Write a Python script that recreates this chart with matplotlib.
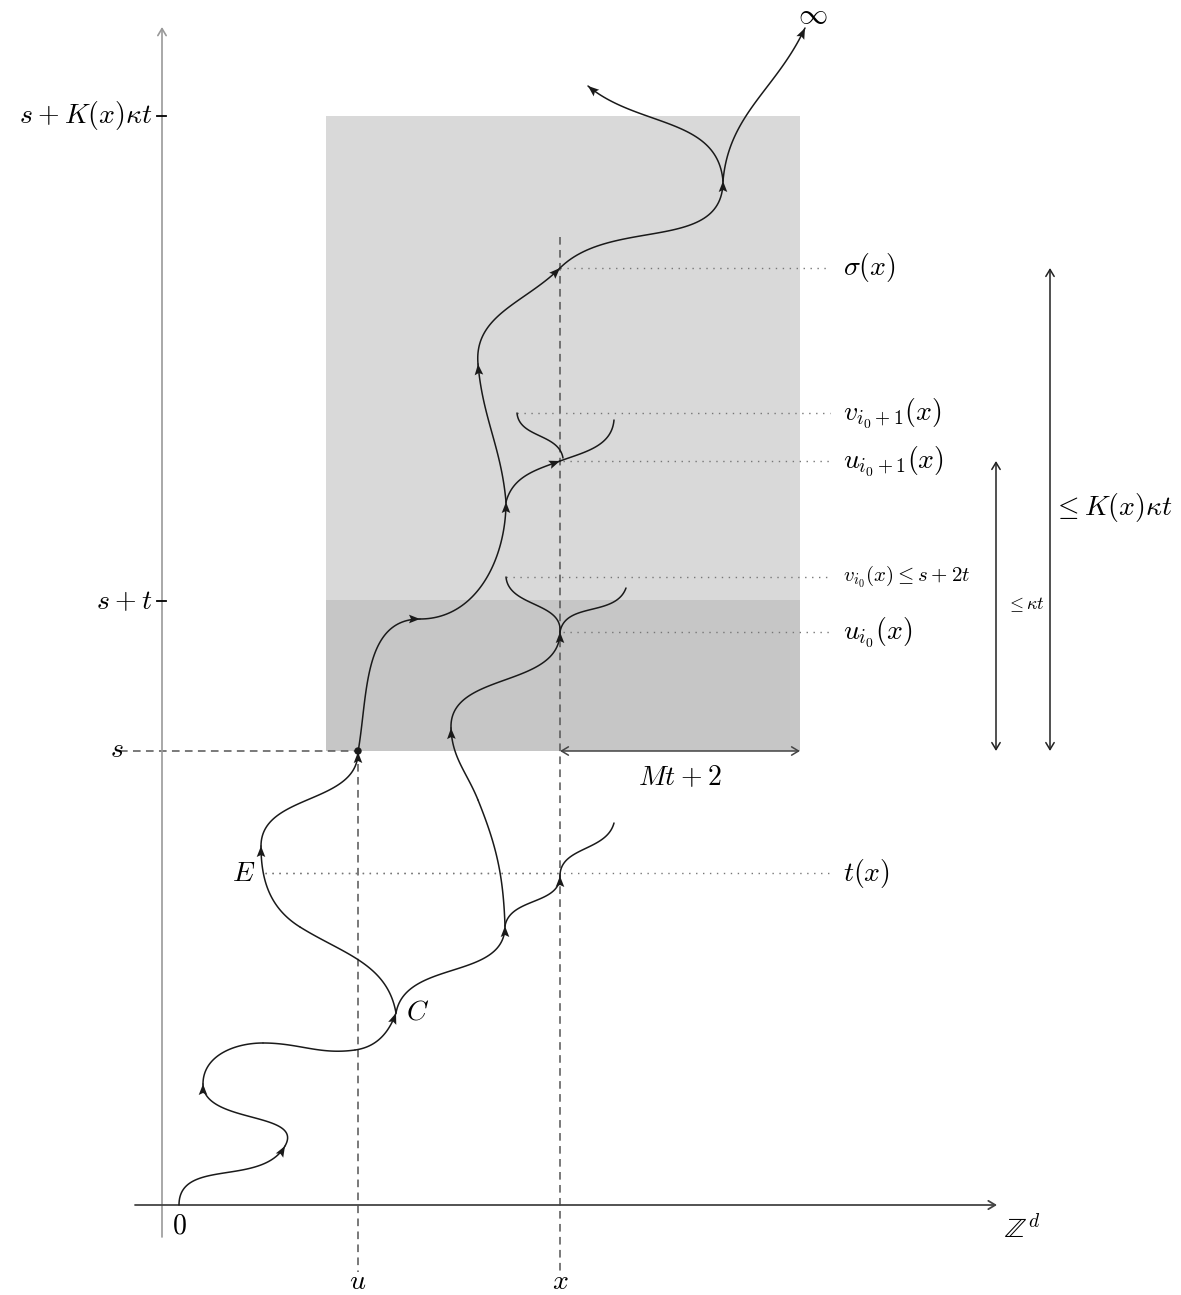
import numpy as np
import matplotlib
matplotlib.use("Agg")
import matplotlib.pyplot as plt
from matplotlib.patches import Polygon, Rectangle, Circle

plt.rcParams['mathtext.fontset'] = 'cm'

W, H = 1181, 1295
fs = 20

# ---- path nodes: (x, y, heading in degrees), pixel coords, y downwards ----
root = [(179, 1205, 90), (285, 1146, 60), (203, 1084, 90), (263, 1043, 0),
        (355, 1050, 8), (396, 1013, 70)]
root_tips = [1, 2, 5]

to_E = [(396, 1013, 100), (300, 927, 148), (261, 846, 90), (358, 752, 90)]
to_E_tips = [2, 3]

c_right = [(396, 1013, 80), (505, 926, 90)]
c_right_tips = [1]

br_tx = [(505, 926, 80), (560, 876, 90), (614, 823, 75)]
br_tx_tips = [1]

br_up = [(505, 926, 92), (478, 800, 112), (451, 728, 92), (560, 632, 90)]
br_up_tips = [2, 3]

cusp0_left = [(560, 632, 85), (506, 577, 95)]
cusp0_right = [(560, 632, 80), (626, 588, 70)]

trunk = [(358, 752, 80), (420, 619, 0), (506, 502, 90)]
trunk_tips = [1, 2]

br_u1 = [(506, 502, 75), (560, 461, 20)]
br_u1_tips = [1]
cusp1_right = [(560, 461, 20), (614, 420, 85)]
cusp1_left = [(563, 458, 100), (517, 413, 95)]

top = [(506, 502, 95), (478, 364, 95), (560, 268, 45), (723, 181, 90)]
top_tips = [1, 2, 3]

to_inf = [(723, 181, 85), (805, 28, 65)]
to_left = [(723, 181, 95), (588, 86, 140)]

# ---- reference levels ----
lvl_names = [r'$\sigma(x)$', r'$v_{i_0+1}(x)$', r'$u_{i_0+1}(x)$',
             r'$v_{i_0}(x)\leq s\:+\:2t$', r'$u_{i_0}(x)$', r'$t(x)$']
lvl_y = [268, 413, 461, 577, 632, 873]
lvl_x0 = [560, 517, 563, 506, 563, 265]
lvl_fs = [fs, fs, fs, 15, fs, fs]

fig = plt.figure(figsize=(W / 100, H / 100), dpi=100)
ax = fig.add_axes([0, 0, 1, 1])
ax.set_xlim(0, W)
ax.set_ylim(H, 0)
ax.axis('off')


def unit(a):
    r = np.deg2rad(a)
    return np.array([np.cos(r), -np.sin(r)])


def draw_path(nodes, tips=(), k=0.39, color='#1a1a1a'):
    t = np.linspace(0, 1, 60)[:, None]
    for (x0, y0, a0), (x1, y1, a1) in zip(nodes[:-1], nodes[1:]):
        p0, p3 = np.array([x0, y0]), np.array([x1, y1])
        d = k * np.hypot(*(p3 - p0))
        p1 = p0 + d * unit(a0)
        p2 = p3 - d * unit(a1)
        pts = ((1 - t) ** 3 * p0 + 3 * (1 - t) ** 2 * t * p1
               + 3 * (1 - t) * t ** 2 * p2 + t ** 3 * p3)
        ax.plot(pts[:, 0], pts[:, 1], color=color, lw=1.1, zorder=4,
                solid_capstyle='round')
    for i in tips:
        x, y, a = nodes[i]
        u = unit(a)
        n = np.array([-u[1], u[0]])
        tip = np.array([x, y])
        back = tip - 11 * u
        notch = tip - 9 * u
        ax.add_patch(Polygon([tip, back + 4.3 * n, notch, back - 4.3 * n],
                             closed=True, color=color, zorder=5, lw=0))


# shaded boxes
ax.add_patch(Rectangle((326, 116), 474, 484, color='#d9d9d9', zorder=0, lw=0))
ax.add_patch(Rectangle((326, 600), 474, 151, color='#c6c6c6', zorder=0, lw=0))

# axes
ax.annotate('', xy=(162, 27), xytext=(162, 1237),
            arrowprops=dict(arrowstyle='->,head_length=0.5,head_width=0.3',
                            color='#999999', lw=1.2, shrinkA=0, shrinkB=0))
ax.annotate('', xy=(997, 1205), xytext=(135, 1205),
            arrowprops=dict(arrowstyle='->,head_length=0.5,head_width=0.3',
                            color='#444444', lw=1.3, shrinkA=0, shrinkB=0))
for ty in [116, 601]:
    ax.plot([157, 166], [ty, ty], color='k', lw=1.3, zorder=3)

# dashed guides
dash = (0, (5, 3.5))
ax.plot([120, 358], [751, 751], color='#555555', lw=1.1, ls=dash, zorder=2)
ax.plot([358, 358], [751, 1272], color='#555555', lw=1.1, ls=dash, zorder=2)
ax.plot([560, 560], [237, 1272], color='#555555', lw=1.1, ls=dash, zorder=2)

# dotted level lines and labels
for name, y, x0, f in zip(lvl_names, lvl_y, lvl_x0, lvl_fs):
    ax.plot([x0, 830], [y, y], color='#777777', lw=1.0, ls=(0, (1, 4)), zorder=2)
    ax.text(843, y, name, fontsize=f, ha='left', va='center')
ax.plot([265, 560], [873, 873], color='#777777', lw=1.0, ls=(0, (1, 4)), zorder=2)

# paths
draw_path(root, root_tips)
draw_path(to_E, to_E_tips)
draw_path(c_right, c_right_tips)
draw_path(br_tx, br_tx_tips)
draw_path(br_up, br_up_tips)
draw_path(cusp0_left)
draw_path(cusp0_right)
draw_path(trunk, trunk_tips)
draw_path(br_u1, br_u1_tips)
draw_path(cusp1_right)
draw_path(cusp1_left)
draw_path(top, top_tips)
draw_path(to_inf, [1])
draw_path(to_left, [1])
ax.add_patch(Circle((358, 751), 3, color='#1a1a1a', zorder=6))

# measurement arrows
two = dict(arrowstyle='<->,head_length=0.5,head_width=0.3', lw=1.1,
           shrinkA=0, shrinkB=0)
ax.annotate('', xy=(800, 751), xytext=(560, 751),
            arrowprops=dict(color='#444444', **two))
ax.annotate('', xy=(996, 461), xytext=(996, 751),
            arrowprops=dict(color='#222222', **two))
ax.annotate('', xy=(1050, 268), xytext=(1050, 751),
            arrowprops=dict(color='#222222', **two))

# labels
ax.text(153, 116, r'$s\:+\:K(x)\kappa t$', fontsize=fs, ha='right', va='center')
ax.text(153, 601, r'$s\:+\:t$', fontsize=fs, ha='right', va='center')
ax.text(117, 749, r'$s$', fontsize=fs, ha='center', va='center')
ax.text(179, 1225, r'$0$', fontsize=fs, ha='center', va='center')
ax.text(358, 1281, r'$u$', fontsize=fs, ha='center', va='center')
ax.text(560, 1281, r'$x$', fontsize=fs, ha='center', va='center')
ax.text(1022, 1230, r'$\mathbb{Z}^d$', fontsize=fs, ha='center', va='center')
ax.text(813, 15, r'$\infty$', fontsize=21, ha='center', va='center')
ax.text(244, 873, r'$E$', fontsize=fs, ha='center', va='center')
ax.text(418, 1012, r'$C$', fontsize=fs, ha='center', va='center')
ax.text(680, 777, r'$Mt\:+\:2$', fontsize=fs, ha='center', va='center')
ax.text(1025, 605, r'$\leq\kappa t$', fontsize=13, ha='center', va='center')
ax.text(1173, 508, r'$\leq K(x)\kappa t$', fontsize=fs, ha='right', va='center')

fig.savefig('out.png', dpi=100)
